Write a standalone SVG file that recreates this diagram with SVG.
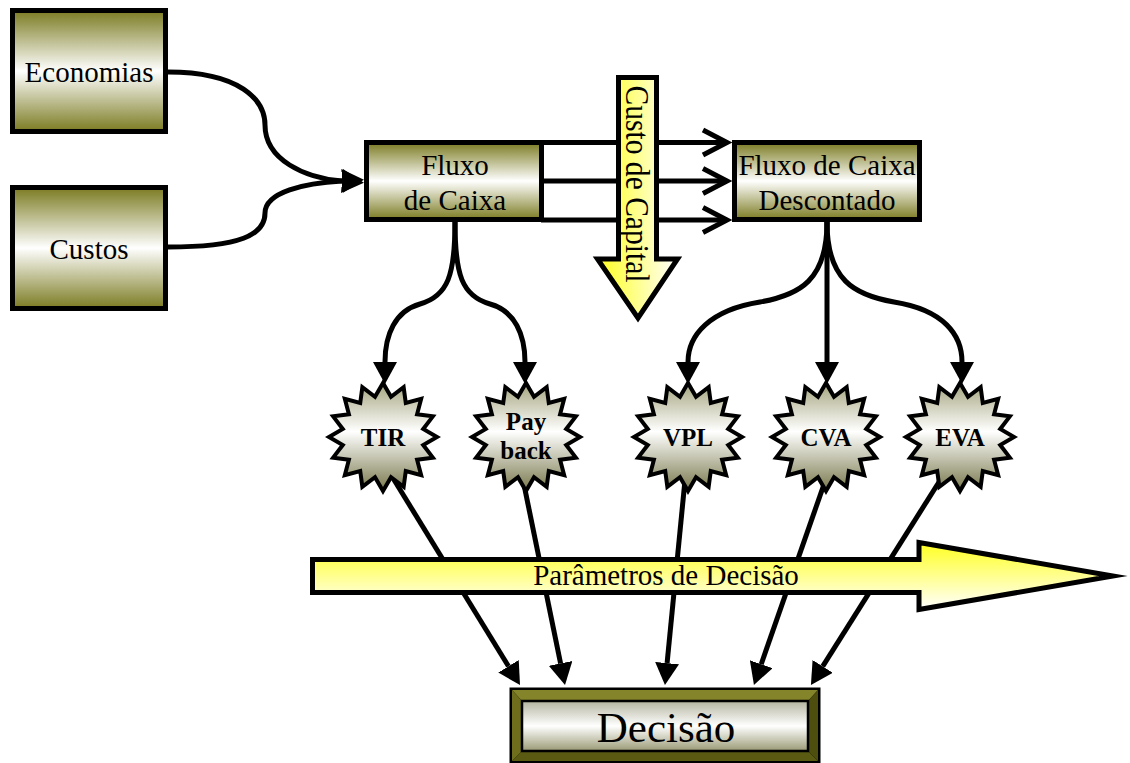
<svg xmlns="http://www.w3.org/2000/svg" width="1130" height="763" viewBox="0 0 1130 763">
<style>
.box{stroke:#000;stroke-width:5;fill:url(#gBox)}
.t{font-family:"Liberation Serif","Times New Roman",serif;fill:#000;text-anchor:middle}
.tb{font-family:"Liberation Serif","Times New Roman",serif;font-weight:bold;fill:#000;text-anchor:middle;font-size:25px}
.ln{fill:none;stroke:#000;stroke-width:5}
.star{fill:url(#gStar);stroke:#000;stroke-width:4;stroke-linejoin:miter}
</style>
<defs>
<linearGradient id="gBox" x1="0" y1="0" x2="0" y2="1">
<stop offset="0" stop-color="#7b7b22"/>
<stop offset="0.5" stop-color="#ffffff"/>
<stop offset="1" stop-color="#7b7b22"/>
</linearGradient>
<linearGradient id="gStar" x1="0" y1="0" x2="0" y2="1">
<stop offset="0" stop-color="#a4a47e"/>
<stop offset="0.45" stop-color="#ffffff"/>
<stop offset="1" stop-color="#78784c"/>
</linearGradient>
<linearGradient id="gFace" x1="0" y1="0" x2="0" y2="1">
<stop offset="0" stop-color="#b4b4a0"/>
<stop offset="0.5" stop-color="#ffffff"/>
<stop offset="1" stop-color="#9a9a76"/>
</linearGradient>
<linearGradient id="gYH" x1="0" y1="0" x2="1" y2="0">
<stop offset="0" stop-color="#ffff20"/>
<stop offset="1" stop-color="#ffffff"/>
</linearGradient>
<linearGradient id="gYV" x1="0" y1="0" x2="0" y2="1">
<stop offset="0" stop-color="#ffff20"/>
<stop offset="1" stop-color="#ffffff"/>
</linearGradient>
<marker id="arr" markerUnits="userSpaceOnUse" viewBox="0 0 22 24" markerWidth="22" markerHeight="24" refX="0" refY="12" orient="auto">
<path d="M0,0 L22,12 L0,24 z" fill="#000"/>
</marker>
<path id="star16" class="star" d="M0,-54 L8,-40.21 L20.66,-49.89 L22.78,-34.09 L38.18,-38.18 L34.09,-22.78 L49.89,-20.66 L40.21,-8 L54,0 L40.21,8 L49.89,20.66 L34.09,22.78 L38.18,38.18 L22.78,34.09 L20.66,49.89 L8,40.21 L0,54 L-8,40.21 L-20.66,49.89 L-22.78,34.09 L-38.18,38.18 L-34.09,22.78 L-49.89,20.66 L-40.21,8 L-54,0 L-40.21,-8 L-49.89,-20.66 L-34.09,-22.78 L-38.18,-38.18 L-22.78,-34.09 L-20.66,-49.89 L-8,-40.21 z"/>
</defs>

<g id="connectors">
<path class="ln" d="M168,72 C240,72 265,100 265,125 C265,160 305,178 342,181" marker-end="url(#arr)"/>
<path class="ln" d="M168,247 C240,247 265,235 265,213 C265,192 305,183 342,181" marker-end="url(#arr)"/>
<line class="ln" x1="541" y1="142.5" x2="727" y2="142.5"/>
<line class="ln" x1="541" y1="181" x2="727" y2="181"/>
<line class="ln" x1="541" y1="220" x2="727" y2="220"/>
<polyline class="ln" points="703,130 727,142.5 703,155"/>
<polyline class="ln" points="703,168.5 727,181 703,193.5"/>
<polyline class="ln" points="703,207.5 727,220 703,232.5"/>
<path class="ln" d="M455,222 C455,275 448,296 420,304 C395,311 385,335 385,362" marker-end="url(#arr)"/>
<path class="ln" d="M455,222 C455,275 462,296 490,304 C515,311 525,335 525,362" marker-end="url(#arr)"/>
<path class="ln" d="M827,222 C827,280 800,295 760,302 C710,310 688,335 688,362" marker-end="url(#arr)"/>
<path class="ln" d="M827,222 L827,362" marker-end="url(#arr)"/>
<path class="ln" d="M827,222 C827,280 854,295 894,302 C944,310 962,335 962,362" marker-end="url(#arr)"/>
<path class="ln" d="M388,470 L508.5,666.3" marker-end="url(#arr)"/>
<path class="ln" d="M521,470 L560.6,663.4" marker-end="url(#arr)"/>
<path class="ln" d="M686,470 L667.1,663.1" marker-end="url(#arr)"/>
<path class="ln" d="M829,470 L761.2,664.2" marker-end="url(#arr)"/>
<path class="ln" d="M946.6,470 L822.7,666.4" marker-end="url(#arr)"/>
</g>

<g id="economias">
<rect class="box" x="12.5" y="10.5" width="153" height="121"/>
<text class="t" x="89" y="82" font-size="29">Economias</text>
</g>
<g id="custos">
<rect class="box" x="12.5" y="187.5" width="153" height="121"/>
<text class="t" x="89" y="259" font-size="29">Custos</text>
</g>
<g id="fluxo">
<rect class="box" x="366.5" y="142.5" width="175" height="77"/>
<text class="t" x="455" y="175" font-size="29">Fluxo</text>
<text class="t" x="455" y="210" font-size="29">de Caixa</text>
</g>
<g id="fluxo-descontado">
<rect class="box" x="734.5" y="142.5" width="185" height="77"/>
<text class="t" x="827" y="175" font-size="29">Fluxo de Caixa</text>
<text class="t" x="827" y="210" font-size="29">Descontado</text>
</g>
<g id="custo-capital">
<polygon points="618.5,77.5 656.5,77.5 656.5,259 677.5,259 638,318 597.5,259 618.5,259" fill="url(#gYH)" stroke="#000" stroke-width="5"/>
<text class="t" transform="translate(626,184) rotate(90)" font-size="33" textLength="197" lengthAdjust="spacingAndGlyphs">Custo de Capital</text>
</g>
<g id="tir">
<use href="#star16" transform="translate(383,437)"/>
<text class="tb" x="383" y="446">TIR</text>
</g>
<g id="payback">
<use href="#star16" transform="translate(526,437)"/>
<text class="tb" x="526" y="430">Pay</text>
<text class="tb" x="526" y="459">back</text>
</g>
<g id="vpl">
<use href="#star16" transform="translate(688,437)"/>
<text class="tb" x="688" y="446">VPL</text>
</g>
<g id="cva">
<use href="#star16" transform="translate(826,437)"/>
<text class="tb" x="826" y="446">CVA</text>
</g>
<g id="eva">
<use href="#star16" transform="translate(960,437)"/>
<text class="tb" x="960" y="446">EVA</text>
</g>
<g id="parametros">
<polygon points="312.5,559.5 919,559.5 919,542.5 1113,576 919,609.5 919,592.5 312.5,592.5" fill="url(#gYV)" stroke="#000" stroke-width="5" stroke-miterlimit="10"/>
<text class="t" x="666" y="585" font-size="29">Parâmetros de Decisão</text>
</g>
<g id="decisao">
<rect x="509.5" y="687.5" width="311" height="76" fill="#000"/>
<polygon points="512,690 818,690 808,701 522,701" fill="#84842a"/>
<polygon points="512,761 818,761 808,751 522,751" fill="#5a5a12"/>
<polygon points="512,690 522,701 522,751 512,761" fill="#6e6e1c"/>
<polygon points="818,690 808,701 808,751 818,761" fill="#4e4e0e"/>
<rect x="522" y="701" width="286" height="50" fill="url(#gFace)" stroke="#000" stroke-width="2.5"/>
<text class="t" x="666" y="742" font-size="43">Decisão</text>
</g>
</svg>
